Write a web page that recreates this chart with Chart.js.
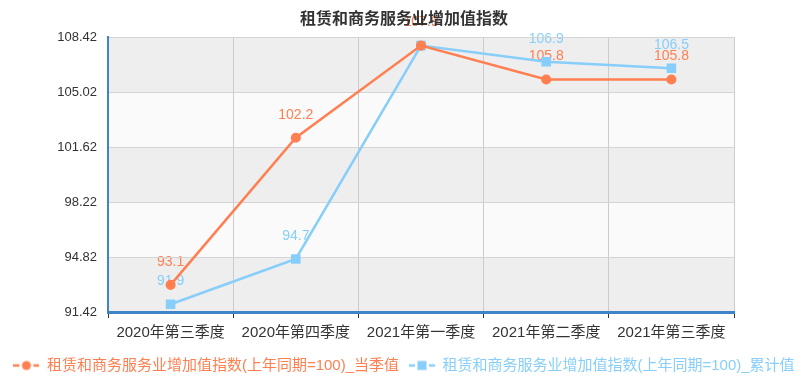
<!DOCTYPE html>
<html><head><meta charset="utf-8">
<script src="https://cdn.jsdelivr.net/npm/chart.js@4/dist/chart.umd.min.js"></script>
<style>html,body{margin:0;padding:0;background:#fff}</style>
</head><body>
<canvas id="c" width="808" height="391" style="width:808px;height:391px;display:block"></canvas>
<script>
const categories = ['2020年第三季度','2020年第四季度','2021年第一季度','2021年第二季度','2021年第三季度'];
const currentQuarterValues = [93.1, 102.2, 107.9, 105.8, 105.8];
const cumulativeValues = [91.9, 94.7, 107.9, 106.9, 106.5];
const yTickValues = [91.42, 94.82, 98.22, 101.62, 105.02, 108.42];
const seriesNames = ['租赁和商务服务业增加值指数(上年同期=100)_当季值', '租赁和商务服务业增加值指数(上年同期=100)_累计值'];
const chartTitle = '租赁和商务服务业增加值指数';

const ORANGE = '#ff7f50';
const BLUE = '#87cefa';
const AXIS_BLUE = '#3d85c6';
const FONT = "'Liberation Sans', 'Noto Sans CJK SC', sans-serif";

function legendIcon(color, shape) {
  const cv = document.createElement('canvas');
  cv.width = 26; cv.height = 12;
  const g = cv.getContext('2d');
  g.strokeStyle = color; g.fillStyle = color; g.lineWidth = 2.5;
  g.beginPath(); g.moveTo(0, 6); g.lineTo(6, 6); g.moveTo(20, 6); g.lineTo(26, 6); g.stroke();
  if (shape === 'circle') { g.beginPath(); g.arc(13, 6, 4.5, 0, Math.PI * 2); g.fill(); }
  else { g.fillRect(8.5, 1.5, 9, 9); }
  return cv;
}
const legendIcons = [legendIcon(ORANGE, 'circle'), legendIcon(BLUE, 'rect')];

const bandsAndLabels = {
  id: 'bandsAndLabels',
  beforeDraw(chart) {
    const {ctx, chartArea: a, scales: {y}} = chart;
    ctx.save();
    for (let i = 0; i < yTickValues.length - 1; i++) {
      const top = y.getPixelForValue(yTickValues[i + 1]);
      const bot = y.getPixelForValue(yTickValues[i]);
      ctx.fillStyle = (i % 2 === 0) ? '#eeeeee' : '#fafafa';
      ctx.fillRect(a.left, top, a.right - a.left, bot - top);
    }
    ctx.font = '14px ' + FONT;
    ctx.textAlign = 'center';
    ctx.textBaseline = 'middle';
    [1, 0].forEach(di => {
      const ds = chart.data.datasets[di];
      const meta = chart.getDatasetMeta(di);
      ctx.fillStyle = ds.borderColor;
      meta.data.forEach((pt, i) => {
        ctx.fillText(ds.data[i].toFixed(1), pt.x, pt.y - 23);
      });
    });
    ctx.restore();
  }
};

new Chart(document.getElementById('c'), {
  type: 'line',
  data: {
    labels: categories,
    datasets: [
      { label: seriesNames[0], data: currentQuarterValues, borderColor: ORANGE, backgroundColor: ORANGE,
        borderWidth: 2.5, pointStyle: 'circle', pointRadius: 3.8, pointHoverRadius: 3.8, tension: 0, fill: false },
      { label: seriesNames[1], data: cumulativeValues, borderColor: BLUE, backgroundColor: BLUE,
        borderWidth: 2.5, pointStyle: 'rect', pointRadius: 5, pointHoverRadius: 5, tension: 0, fill: false }
    ]
  },
  options: {
    responsive: false,
    animation: false,
    events: [],
    layout: { padding: { left: 0, right: 0, top: 0, bottom: 8 } },
    plugins: {
      title: { display: true, text: chartTitle, color: '#333', font: { family: FONT, size: 16, weight: 'bold' },
        padding: { top: 10, bottom: 8 } },
      legend: {
        position: 'bottom',
        labels: {
          usePointStyle: true, pointStyleWidth: 26, padding: 10,
          font: { family: FONT, size: 15 },
          generateLabels(chart) {
            return chart.data.datasets.map((ds, i) => ({
              text: ds.label, fontColor: ds.borderColor, fillStyle: ds.borderColor, strokeStyle: ds.borderColor,
              lineWidth: 0, pointStyle: legendIcons[i], datasetIndex: i, hidden: false
            }));
          }
        }
      },
      tooltip: { enabled: false }
    },
    scales: {
      x: {
        offset: true,
        grid: { offset: true, color: '#cccccc', drawTicks: true, tickLength: 6, tickColor: '#333', tickWidth: 1 },
        border: { color: AXIS_BLUE, width: 3 },
        ticks: { color: '#333', font: { family: FONT, size: 15 }, padding: 6, maxRotation: 0, autoSkip: false }
      },
      y: {
        min: yTickValues[0], max: yTickValues[yTickValues.length - 1],
        afterBuildTicks(scale) { scale.ticks = yTickValues.map(v => ({ value: v })); },
        afterFit(scale) { scale.width = 108; },
        grid: { color: '#d4d4d4', drawTicks: false },
        border: { color: AXIS_BLUE, width: 2 },
        ticks: { color: '#333', font: { family: FONT, size: 13 }, padding: 11,
          callback: v => v.toFixed(2) }
      },
      yRight: {
        position: 'right',
        min: yTickValues[0], max: yTickValues[yTickValues.length - 1],
        afterFit(scale) { scale.width = 74; },
        grid: { display: false, drawTicks: false },
        border: { display: false },
        ticks: { display: false }
      }
    }
  },
  plugins: [bandsAndLabels]
});
</script>
</body></html>
